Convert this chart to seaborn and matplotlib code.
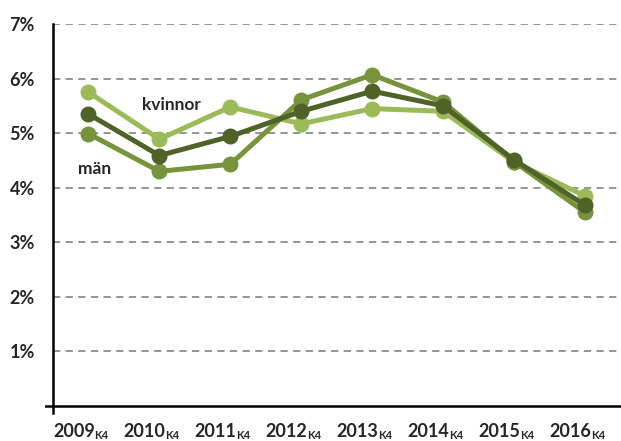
import numpy as np
import pandas as pd
import seaborn as sns
import matplotlib
matplotlib.use('Agg')
import matplotlib.pyplot as plt

years = ['2009', '2010', '2011', '2012', '2013', '2014', '2015', '2016']
kvinnor = [5.75, 4.89, 5.48, 5.17, 5.45, 5.40, 4.47, 3.85]
man = [4.99, 4.30, 4.43, 5.61, 6.07, 5.57, 4.48, 3.55]
totalt = [5.35, 4.59, 4.94, 5.40, 5.77, 5.50, 4.51, 3.68]

colors = {'kvinnor': '#9bbb59', 'män': '#77933c', 'totalt': '#4f6228'}

sns.set_style('white')
plt.rcParams['font.family'] = ['Lato', 'DejaVu Sans']

df = pd.DataFrame({
    'x': list(range(len(years))) * 3,
    'value': kvinnor + man + totalt,
    'serie': ['kvinnor'] * 8 + ['män'] * 8 + ['totalt'] * 8,
})

fig = plt.figure(figsize=(6.21, 4.41), dpi=100)
ax = fig.add_axes([44.5 / 621, 1 - 412.6 / 441, (620.5 - 44.5) / 621, (412.6 - 24) / 441])

# dashed grid
for y in range(1, 8):
    ax.hlines(y, -0.5, 7.5, colors='#8c8c8c', linestyles=(0, (4, 3)), linewidth=1.3, zorder=1)

sns.lineplot(data=df, x='x', y='value', hue='serie', hue_order=['kvinnor', 'män', 'totalt'],
             palette=colors, marker='o', markersize=11.5, markeredgewidth=0,
             linewidth=3.6, legend=False, ax=ax, zorder=3)

ax.set_xlim(-0.62, 7.5)
ax.set_ylim(-0.12, 7)
for s in ['top', 'right', 'bottom']:
    ax.spines[s].set_visible(False)
ax.spines['left'].set_position(('data', -0.5))
ax.spines['left'].set_color('black')
ax.spines['left'].set_linewidth(1.8)
ax.spines['left'].set_bounds(-0.12, 7)
ax.axhline(0, color='black', linewidth=1.8, zorder=2)

ax.set_yticks(range(1, 8))
ax.set_yticklabels([f'{i}%' for i in range(1, 8)], fontsize=13, fontweight='bold')
ax.tick_params(axis='y', length=0, pad=13)
ax.set_xticks(range(len(years)))
ax.set_xticklabels([])
ax.tick_params(axis='x', length=0)
ax.set_xlabel('')
ax.set_ylabel('')

# x labels: year + subscript K4
for i, y in enumerate(years):
    ax.annotate(y, xy=(i, 0), xycoords='data', xytext=(4.5, -22.5), textcoords='offset points',
                ha='right', va='baseline', fontsize=13, fontweight='bold', annotation_clip=False)
    ax.annotate('K4', xy=(i, 0), xycoords='data', xytext=(4.2, -24), textcoords='offset points',
                ha='left', va='baseline', fontsize=8, fontweight='bold', annotation_clip=False)

ax.text(1.17, 5.51, 'kvinnor', fontsize=12.5, fontweight='bold', ha='center', va='center')
ax.text(0.08, 4.35, 'män', fontsize=12.5, fontweight='bold', ha='center', va='center')

fig.savefig('out.png', dpi=100)
